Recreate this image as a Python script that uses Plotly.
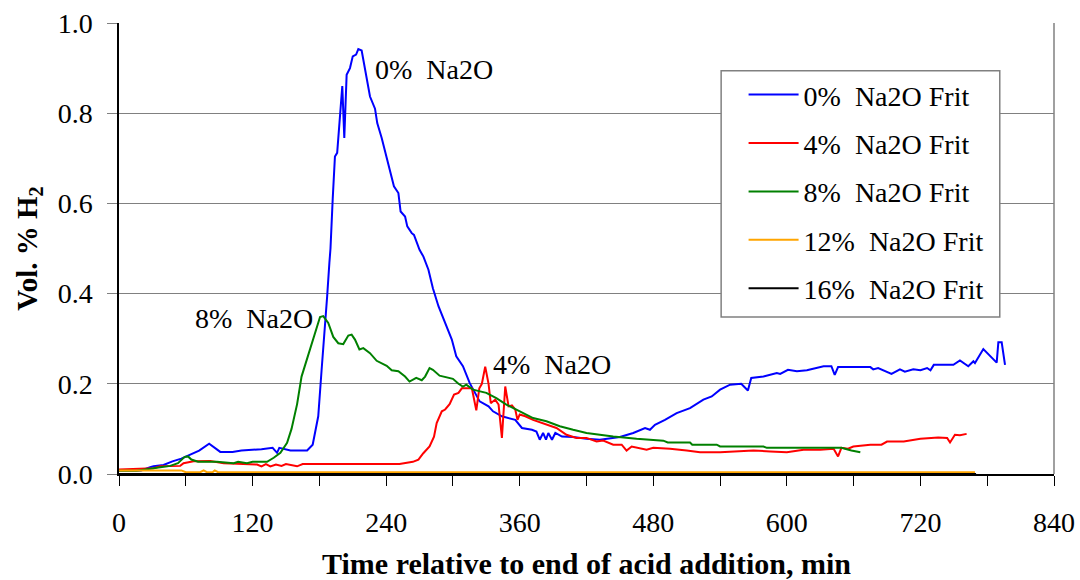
import plotly.graph_objects as go

# ---- data (minutes, vol. % H2) ----
t0 = [0, 20, 28, 31, 40, 48, 56, 64, 72, 81, 86, 91, 102, 110, 128, 138, 142, 144, 154, 169, 174, 179, 182, 185, 187, 189, 190, 192, 194, 196, 198.5, 200.6, 202.4, 204.5, 207.5, 210, 213, 215, 218, 220, 225.5, 230, 232, 236, 242, 247, 251, 253, 257, 259, 263, 265, 270, 273.5, 278, 282, 287, 293, 299, 303, 309, 315, 320, 324, 332, 336, 344, 356, 362, 371, 375, 378, 381, 383.6, 385.7, 389, 392, 398, 408, 420, 432, 438, 450, 462, 472.6, 477, 481.5, 490.5, 501, 513, 525, 532.5, 540, 549, 559, 565, 568, 579, 591, 594, 601, 609, 618, 633, 640, 643, 646, 675, 677.6, 682, 694, 701.6, 706, 713.6, 720, 726, 729, 732, 749.6, 755.5, 763, 767.6, 769, 776.5, 788.5, 790, 793, 796]
v0 = [0.008, 0.008, 0.015, 0.017, 0.02, 0.028, 0.034, 0.043, 0.052, 0.067, 0.058, 0.049, 0.049, 0.052, 0.055, 0.058, 0.047, 0.058, 0.052, 0.052, 0.065, 0.128, 0.23, 0.32, 0.394, 0.468, 0.50, 0.61, 0.704, 0.712, 0.793, 0.86, 0.745, 0.885, 0.90, 0.926, 0.93, 0.942, 0.939, 0.911, 0.837, 0.81, 0.778, 0.745, 0.69, 0.638, 0.623, 0.582, 0.571, 0.549, 0.534, 0.53, 0.497, 0.482, 0.453, 0.412, 0.372, 0.335, 0.298, 0.261, 0.239, 0.202, 0.18, 0.161, 0.15, 0.139, 0.128, 0.12, 0.102, 0.098, 0.094, 0.076, 0.091, 0.076, 0.091, 0.076, 0.091, 0.083, 0.082, 0.078, 0.076, 0.078, 0.082, 0.091, 0.102, 0.098, 0.109, 0.12, 0.135, 0.146, 0.165, 0.172, 0.187, 0.198, 0.20, 0.185, 0.213, 0.216, 0.224, 0.222, 0.231, 0.228, 0.23, 0.239, 0.239, 0.22, 0.237, 0.237, 0.232, 0.235, 0.222, 0.232, 0.227, 0.232, 0.23, 0.235, 0.23, 0.242, 0.242, 0.252, 0.239, 0.25, 0.246, 0.277, 0.247, 0.292, 0.292, 0.242]

t4 = [0, 19, 31, 37, 55, 58, 67, 82, 94, 106, 124, 128, 132, 136, 141, 146, 150, 160, 165, 252, 264, 269, 273.4, 279, 283, 285.4, 290, 293, 297, 301, 305, 308, 312, 317, 321, 323.7, 326, 329, 332, 334, 338, 341, 344, 347, 350, 353, 356, 358, 360, 365, 372, 384, 393, 402, 411, 420, 429, 435, 444, 451.6, 456, 460.6, 468, 474, 480, 495, 510, 522, 540, 555, 570, 585, 600, 615, 630, 642, 646, 649, 655, 659.7, 675, 685, 690, 705, 720, 736, 744, 746.6, 751, 755.5, 761.5]
v4 = [0.01, 0.012, 0.013, 0.017, 0.018, 0.024, 0.028, 0.029, 0.024, 0.023, 0.021, 0.017, 0.022, 0.017, 0.021, 0.018, 0.022, 0.017, 0.022, 0.022, 0.027, 0.032, 0.046, 0.061, 0.083, 0.113, 0.139, 0.143, 0.155, 0.176, 0.18, 0.19, 0.19, 0.19, 0.141, 0.19, 0.20, 0.238, 0.20, 0.157, 0.165, 0.154, 0.08, 0.194, 0.15, 0.152, 0.143, 0.12, 0.132, 0.128, 0.12, 0.109, 0.102, 0.087, 0.08, 0.08, 0.072, 0.074, 0.065, 0.065, 0.052, 0.061, 0.058, 0.054, 0.058, 0.056, 0.052, 0.048, 0.048, 0.05, 0.052, 0.05, 0.048, 0.054, 0.054, 0.056, 0.039, 0.058, 0.056, 0.061, 0.065, 0.065, 0.072, 0.072, 0.078, 0.081, 0.08, 0.07, 0.087, 0.086, 0.089]

t8 = [0, 16, 37, 46, 53, 59, 62, 65, 71, 88, 103, 107, 115, 120, 133, 139, 145, 151, 155, 160, 164, 167, 174.5, 180.6, 183.5, 188, 192.5, 197, 201.5, 206, 209, 212, 216, 219.5, 225.5, 231.5, 240.5, 245, 251, 257, 261, 267, 272, 275, 279, 282, 288, 294, 300, 305, 309, 312, 318, 330, 339, 348, 360, 372, 384, 396, 408, 420, 432, 444, 465, 489, 493, 513, 515, 537, 540, 579, 582, 649, 658, 666]
v8 = [0.007, 0.007, 0.015, 0.018, 0.024, 0.038, 0.039, 0.032, 0.027, 0.027, 0.024, 0.027, 0.024, 0.027, 0.027, 0.036, 0.047, 0.069, 0.10, 0.155, 0.216, 0.239, 0.298, 0.348, 0.35, 0.335, 0.304, 0.29, 0.288, 0.307, 0.309, 0.298, 0.276, 0.279, 0.268, 0.251, 0.24, 0.23, 0.228, 0.216, 0.205, 0.213, 0.208, 0.216, 0.235, 0.231, 0.218, 0.215, 0.211, 0.20, 0.194, 0.198, 0.187, 0.18, 0.168, 0.154, 0.139, 0.124, 0.117, 0.106, 0.098, 0.091, 0.087, 0.083, 0.078, 0.074, 0.07, 0.07, 0.065, 0.065, 0.061, 0.061, 0.058, 0.058, 0.052, 0.048]

t12 = [0, 56, 60, 73, 76, 79, 84, 86, 89, 769]
v12 = [0.008, 0.008, 0.004, 0.004, 0.008, 0.004, 0.004, 0.008, 0.004, 0.004]

t16 = [0, 770]
v16 = [0.0, 0.0]

names = ["0%\u00a0 Na2O Frit", "4%\u00a0 Na2O Frit", "8%\u00a0 Na2O Frit",
         "12%\u00a0 Na2O Frit", "16%\u00a0 Na2O Frit"]
colors = ["#0000FF", "#FF0000", "#008000", "#FFA500", "#000000"]
xtick_vals = [0, 120, 240, 360, 480, 600, 720, 840]

series = [(t0, v0), (t4, v4), (t8, v8), (t12, v12), (t16, v16)]

FONT = "Liberation Serif, Times New Roman, serif"
FS = 28
fig = go.Figure()
for i, ((tx, vy), nm, c) in enumerate(zip(series, names, colors)):
    fig.add_trace(go.Scatter(x=tx, y=vy, mode="lines", name=nm,
                             line=dict(color=c, width=2),
                             legendgroup=f"g{i}"))

fig.update_layout(
    width=1080, height=580,
    margin=dict(l=119, r=26, t=23, b=106),
    plot_bgcolor="white", paper_bgcolor="white",
    font=dict(family=FONT, size=FS, color="black"),
    showlegend=True,
    legend=dict(x=0.668, y=0.896, xanchor="left", yanchor="top",
                borderwidth=0, bgcolor="rgba(0,0,0,0)",
                font=dict(family=FONT, size=FS), tracegroupgap=9,
                itemwidth=50),
    xaxis=dict(range=[0, 840], tickvals=xtick_vals, ticks="outside",
               ticklen=10, tickcolor="black", showline=True, linecolor="black",
               linewidth=1.5, showgrid=False, zeroline=False, automargin=False,
               tickfont=dict(family=FONT, size=FS),
               minor=dict(dtick=60, ticks="outside", ticklen=10, tickcolor="black", showgrid=False),
               ticklabelstandoff=13,
               title=dict(text="<b>Time relative to end of acid addition, min</b>",
                          font=dict(family=FONT, size=30), standoff=36)),
    yaxis=dict(range=[0, 1.0], dtick=0.2, tickformat=".1f", ticks="outside",
               ticklen=10, tickcolor="#808080", showline=True, linecolor="black",
               linewidth=1.5, showgrid=True, gridcolor="#808080", gridwidth=1,
               zeroline=False, ticklabelstandoff=9, automargin=False,
               tickfont=dict(family=FONT, size=FS),
               title=dict(text="<b>Vol. % H<sub>2</sub></b>",
                          font=dict(family=FONT, size=29), standoff=12)),
)

# right border of the plot area
fig.add_shape(type="line", xref="paper", yref="paper", x0=1, x1=1, y0=0, y1=1,
              line=dict(color="#808080", width=1.5))
# legend frame
fig.add_shape(type="rect", xref="paper", yref="paper",
              x0=0.644, x1=0.942, y0=0.348, y1=0.894,
              line=dict(color="#808080", width=1.5), fillcolor="white", layer="above")

ann = [("0% Na2O", 228, 0.896), ("8% Na2O", 66.5, 0.345), ("4% Na2O", 334, 0.242)]
for txt, ax, ay in ann:
    fig.add_annotation(x=ax, y=ay, text=txt.replace("% ", "%\u00a0 "), showarrow=False,
                       xanchor="left", yanchor="middle",
                       font=dict(family=FONT, size=FS, color="black"))

fig.write_html("out.html")
